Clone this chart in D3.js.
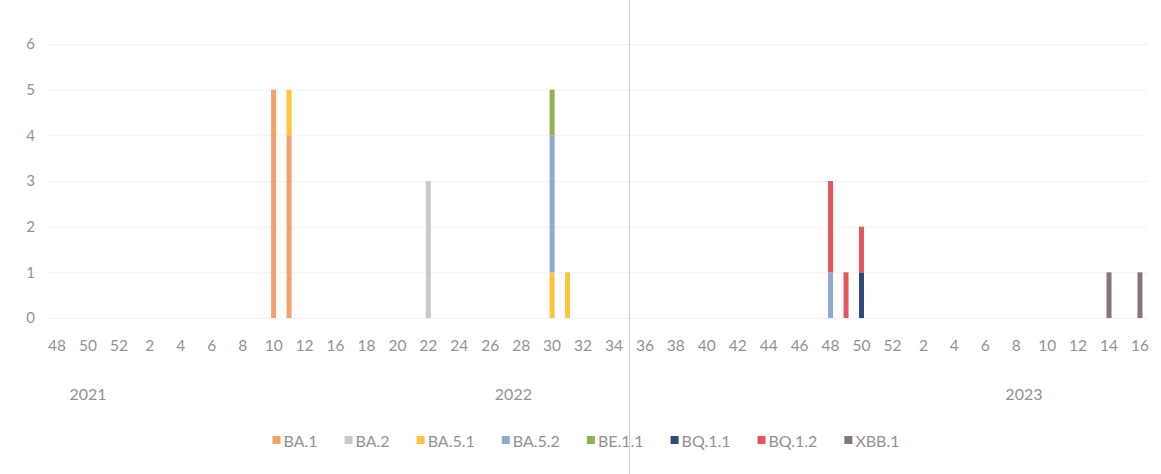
<!DOCTYPE html>
<html>
<head>
<meta charset="utf-8">
<script src="https://cdn.jsdelivr.net/npm/d3@7"></script>
<style>
  html, body { margin: 0; padding: 0; background: #fff; }
  svg { display: block; }
  text { font-family: Lato, "Open Sans", sans-serif; fill: #929292; }
</style>
</head>
<body>
<svg id="chart" width="1161" height="474"></svg>
<script>
// Category axis: ISO weeks grouped by year (one week is absent in spring 2022)
const weeks2021 = [48, 49, 50, 51, 52];
const weeks2022 = [1,2,3,4,5,6,7,8,9,10,11,12,14,16,17,18,19,20,21,22,23,24,25,26,27,28,29,30,31,32,33,34,35,36,37,38,39,40,41,42,43,44,45,46,47,48,49,50,51,52];
const weeks2023 = [1,2,3,4,5,6,7,8,9,10,11,12,13,14,15,16];
const years = ["2021", "2022", "2023"];

// Variant names (legend order = stacking order, bottom to top)
const variants = ["BA.1", "BA.2", "BA.5.1", "BA.5.2", "BE.1.1", "BQ.1.1", "BQ.1.2", "XBB.1"];
const variantColors = ["#f5a06c", "#cbc8d0", "#fdc53c", "#8eaad4", "#93b154", "#2d4a7b", "#e2565d", "#857580"];

// Sequenced cases per variant: [year-week, count]
const BA_1   = [["2022-10", 5], ["2022-11", 4]];
const BA_2   = [["2022-22", 3]];
const BA_5_1 = [["2022-11", 1], ["2022-30", 1], ["2022-31", 1]];
const BA_5_2 = [["2022-30", 3], ["2022-48", 1]];
const BE_1_1 = [["2022-30", 1]];
const BQ_1_1 = [["2022-50", 1]];
const BQ_1_2 = [["2022-48", 2], ["2022-49", 1], ["2022-50", 1]];
const XBB_1  = [["2023-14", 1], ["2023-16", 1]];

const yTicks = [0, 1, 2, 3, 4, 5, 6];

const seriesData = [BA_1, BA_2, BA_5_1, BA_5_2, BE_1_1, BQ_1_1, BQ_1_2, XBB_1];

// Build the flat category list
const categories = [];
[[years[0], weeks2021], [years[1], weeks2022], [years[2], weeks2023]].forEach(([yr, wks]) => {
  wks.forEach(w => categories.push({ key: yr + "-" + w, year: yr, week: w }));
});

// Wide table for stacking
const table = categories.map(c => {
  const row = { key: c.key };
  variants.forEach((v, i) => {
    const hit = seriesData[i].find(d => d[0] === c.key);
    row[v] = hit ? hit[1] : 0;
  });
  return row;
});

const svg = d3.select("#chart");
const W = 1161, H = 474;

const x = d3.scaleBand()
  .domain(categories.map(c => c.key))
  .range([49.3, 1147.7])
  .paddingInner(0).paddingOuter(0);

const y = d3.scaleLinear().domain([0, 6]).range([318, 44]);

const color = d3.scaleOrdinal().domain(variants).range(variantColors);

// Horizontal gridlines
svg.append("g")
  .selectAll("line")
  .data(yTicks)
  .join("line")
  .attr("x1", x.range()[0])
  .attr("x2", x.range()[1])
  .attr("y1", d => y(d) + 0.5)
  .attr("y2", d => y(d) + 0.5)
  .attr("stroke", "#f2f2f2")
  .attr("stroke-width", 1);

// Y axis labels
const yAxis = d3.axisLeft(y).tickValues(yTicks).tickSize(0).tickPadding(0).tickFormat(d3.format("d"));
const yg = svg.append("g").attr("transform", "translate(35,0)").call(yAxis);
yg.select(".domain").remove();
yg.selectAll("text").style("font-size", "15px").attr("fill", "#929292");

// Stacked bars
const stack = d3.stack().keys(variants);
const layers = stack(table);
const barW = 5;

svg.append("g")
  .selectAll("g")
  .data(layers)
  .join("g")
  .attr("fill", d => color(d.key))
  .selectAll("rect")
  .data(d => d.filter(p => p[1] - p[0] > 0))
  .join("rect")
  .attr("x", d => x(d.data.key) + x.bandwidth() / 2 - barW / 2)
  .attr("width", barW)
  .attr("y", d => y(d[1]))
  .attr("height", d => y(d[0]) - y(d[1]));

// Week labels, every second category
const weekTicks = categories.filter((c, i) => i % 2 === 0).map(c => c.key);
const weekOf = new Map(categories.map(c => [c.key, c.week]));
const xAxis = d3.axisBottom(x).tickValues(weekTicks).tickSize(0).tickPadding(0)
  .tickFormat(k => weekOf.get(k));
const xg = svg.append("g").attr("transform", "translate(0,340)").call(xAxis);
xg.select(".domain").remove();
xg.selectAll("text").style("font-size", "15.5px").attr("fill", "#929292");

// Year labels centred under their group of weeks
const yearGroups = d3.groups(categories, c => c.year);
svg.append("g")
  .selectAll("text")
  .data(yearGroups)
  .join("text")
  .attr("x", ([yr, cs]) => (x(cs[0].key) + x(cs[cs.length - 1].key) + x.bandwidth()) / 2)
  .attr("y", 400)
  .attr("text-anchor", "middle")
  .style("font-size", "16px")
  .text(([yr]) => yr);

// Legend
const legend = svg.append("g");
const items = legend.selectAll("g").data(variants).join("g");
items.append("rect")
  .attr("width", 8).attr("height", 8)
  .attr("y", -5)
  .attr("fill", d => color(d));
items.append("text")
  .attr("x", 11)
  .attr("y", 0)
  .attr("dy", "0.35em")
  .style("font-size", "16px")
  .text(d => d);
let cursor = 0;
const gap = 27;
items.each(function () {
  const g = d3.select(this);
  g.attr("transform", `translate(${cursor},0)`);
  cursor += 11 + g.select("text").node().getComputedTextLength() + gap;
});
const total = cursor - gap;
legend.attr("transform", `translate(${586 - total / 2},441)`);

// Thin vertical rule crossing the sheet
svg.append("line")
  .attr("x1", 629.5).attr("x2", 629.5)
  .attr("y1", 0).attr("y2", H)
  .attr("stroke", "#cfcfcf")
  .attr("stroke-width", 1);
</script>
</body>
</html>
